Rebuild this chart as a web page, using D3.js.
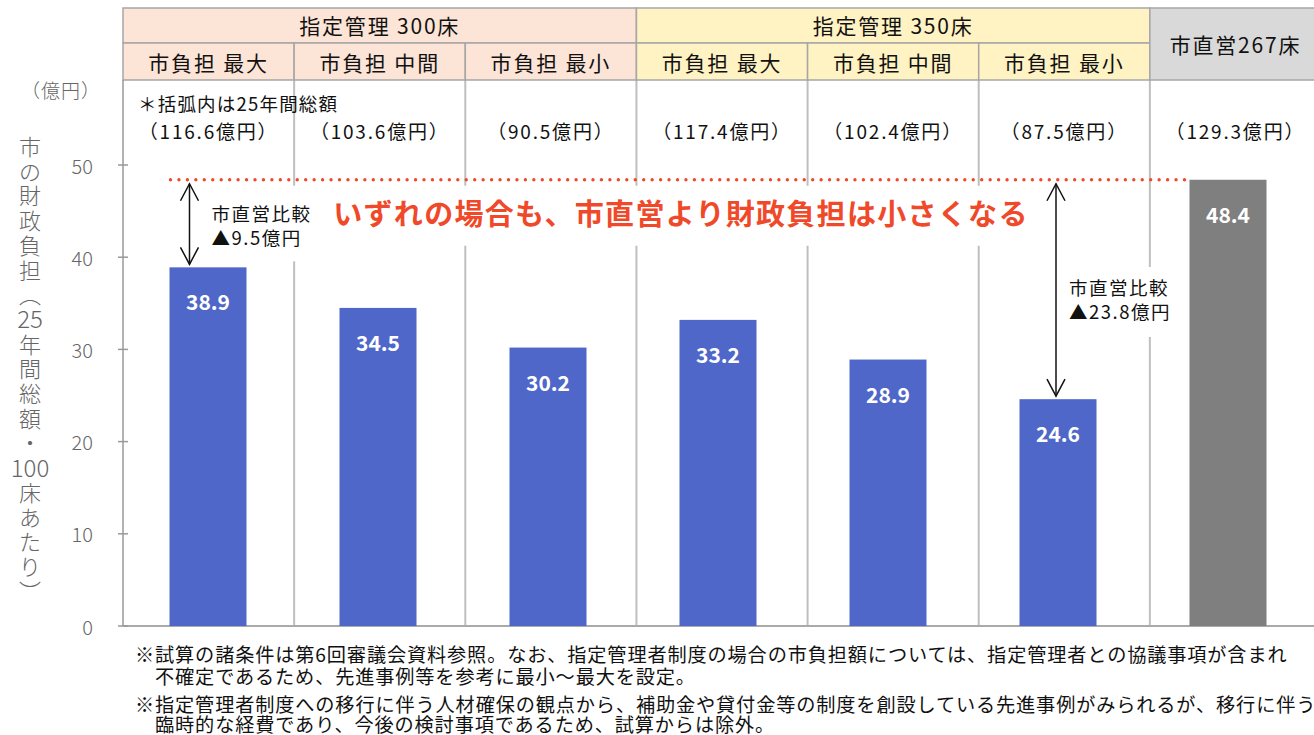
<!DOCTYPE html>
<html>
<head>
<meta charset="utf-8">
<script src="https://cdn.jsdelivr.net/npm/d3@7"></script>
<style>
  body { margin: 0; background: #fff; }
  svg { display: block; }
  text { font-family: "Noto Sans CJK JP", "Noto Sans", sans-serif; }
</style>
</head>
<body>
<svg id="chart" width="1314" height="735"></svg>
<script>
// chart data
const groupNames = ["指定管理 300床", "指定管理 350床", "市直営267床"];
const groupOf = [0, 0, 0, 1, 1, 1, 2];
const subLabels = ["市負担 最大", "市負担 中間", "市負担 最小", "市負担 最大", "市負担 中間", "市負担 最小", "市直営267床"];
const values = [38.9, 34.5, 30.2, 33.2, 28.9, 24.6, 48.4];
const totals = ["116.6", "103.6", "90.5", "117.4", "102.4", "87.5", "129.3"];
const yTicks = [0, 10, 20, 30, 40, 50];
const compareIdx = [0, 5];
const compareLabels = ["▲9.5億円", "▲23.8億円"];
const titleParts = ["市", "の", "財", "政", "負", "担", "︵", "25", "年", "間", "総", "額", "・", "100", "床", "あ", "た", "り", "︶"];
const footnotes = [
    "※試算の諸条件は第6回審議会資料参照。なお、指定管理者制度の場合の市負担額については、指定管理者との協議事項が含まれ",
    "　不確定であるため、先進事例等を参考に最小～最大を設定。",
    "※指定管理者制度への移行に伴う人材確保の観点から、補助金や貸付金等の制度を創設している先進事例がみられるが、移行に伴う",
    "　臨時的な経費であり、今後の検討事項であるため、試算からは除外。"
];

const groupFill = ["#FCE4D6", "#FFF2C3", "#D9D9D9"];
const barColor = ["#4F67C8", "#4F67C8", "#4F67C8", "#4F67C8", "#4F67C8", "#4F67C8", "#7F7F7F"];
const red = "#F0492A";

const svg = d3.select("#chart");
const keys = values.map((d, i) => "c" + i);

// bars scale and the table columns
const x = d3.scaleBand().domain(keys).range([123, 1313]).paddingInner(0.547).paddingOuter(0.2735);
const col = d3.scaleBand().domain(keys).range([123, 1321]);
const y = d3.scaleLinear().domain([0, 50]).range([626, 165]);

const top1 = 8, top2 = 43, top3 = 80;

// column dividers in the plot
svg.append("g").selectAll("line")
    .data(keys.slice(1))
    .enter().append("line")
    .attr("x1", d => col(d)).attr("x2", d => col(d))
    .attr("y1", top3).attr("y2", y(0))
    .attr("stroke", "#BFBFBF").attr("stroke-width", 2);

// header table
const head = svg.append("g");
groupNames.forEach(function(name, g) {
    const idx = keys.filter((k, i) => groupOf[i] === g);
    const x0 = col(idx[0]), x1 = col(idx[idx.length - 1]) + col.bandwidth();
    const single = idx.length === 1;
    head.append("rect")
        .attr("x", x0).attr("y", top1)
        .attr("width", x1 - x0).attr("height", (single ? top3 : top2) - top1)
        .attr("fill", groupFill[g]).attr("stroke", "#A6A6A6").attr("stroke-width", 1.5);
    head.append("text")
        .attr("x", (x0 + x1) / 2).attr("y", single ? (top1 + top3) / 2 : (top1 + top2) / 2 - 1)
        .attr("text-anchor", "middle").attr("dominant-baseline", "central")
        .attr("font-size", 21).attr("letter-spacing", 1.8).attr("fill", "#111")
        .text(name);
    if (!single) {
        idx.forEach(function(k) {
            const i = keys.indexOf(k);
            head.append("rect")
                .attr("x", col(k)).attr("y", top2)
                .attr("width", col.bandwidth()).attr("height", top3 - top2)
                .attr("fill", groupFill[g]).attr("stroke", "#A6A6A6").attr("stroke-width", 1.5);
            head.append("text")
                .attr("x", col(k) + col.bandwidth() / 2).attr("y", (top2 + top3) / 2)
                .attr("text-anchor", "middle").attr("dominant-baseline", "central")
                .attr("font-size", 21).attr("letter-spacing", 1.8).attr("fill", "#111")
                .text(subLabels[i]);
        });
    }
});

// totals in parentheses
svg.append("text")
    .attr("x", 138).attr("y", 103)
    .attr("dominant-baseline", "central")
    .attr("font-size", 18.5).attr("letter-spacing", 1.2).attr("fill", "#111")
    .text("＊括弧内は25年間総額");
svg.append("g").selectAll("text")
    .data(totals)
    .enter().append("text")
    .attr("x", (d, i) => col(keys[i]) + col.bandwidth() / 2)
    .attr("y", 130)
    .attr("text-anchor", "middle").attr("dominant-baseline", "central")
    .attr("font-size", 19).attr("letter-spacing", 1.8).attr("fill", "#111")
    .text(d => "（" + d + "億円）");

// y axis
const axis = svg.append("g");
axis.append("line")
    .attr("x1", 123).attr("x2", 123).attr("y1", top3).attr("y2", y(0))
    .attr("stroke", "#999").attr("stroke-width", 1.5);
axis.append("line")
    .attr("x1", 123).attr("x2", 1314).attr("y1", y(0)).attr("y2", y(0))
    .attr("stroke", "#AAAAAA").attr("stroke-width", 2);
axis.selectAll(".tick")
    .data(yTicks)
    .enter().append("line")
    .attr("x1", 118).attr("x2", 128)
    .attr("y1", d => y(d)).attr("y2", d => y(d))
    .attr("stroke", "#999").attr("stroke-width", 1.5);
axis.selectAll(".tlabel")
    .data(yTicks)
    .enter().append("text")
    .attr("x", 93).attr("y", d => y(d))
    .attr("text-anchor", "end").attr("dominant-baseline", "central")
    .attr("font-size", 20).attr("font-weight", 300).attr("fill", "#666")
    .text(d => d);
axis.append("text")
    .attr("x", 101).attr("y", 89)
    .attr("text-anchor", "end").attr("dominant-baseline", "central")
    .attr("font-size", 19).attr("letter-spacing", 1).attr("font-weight", 300).attr("fill", "#666")
    .text("（億円）");

// vertical axis title, one glyph at a time
svg.append("g").selectAll("text")
    .data(titleParts)
    .enter().append("text")
    .attr("x", 30).attr("y", (d, i) => 145 + i * 24.7)
    .attr("text-anchor", "middle").attr("dominant-baseline", "central")
    .attr("font-size", d => d.length > 1 ? 24 : 22).attr("font-weight", 300).attr("fill", "#666")
    .text(d => d);

// white boxes hiding dividers behind the notes
const bx = x(keys[0]) + 20;
svg.append("rect").attr("x", bx + 14).attr("y", y(48.4) + 6).attr("width", 110).attr("height", y(values[0]) - y(48.4) - 12).attr("fill", "#fff");
svg.append("rect").attr("x", 330).attr("y", y(48.4) + 6).attr("width", 705).attr("height", 60).attr("fill", "#fff");

// bars
svg.append("g").selectAll("rect")
    .data(values)
    .enter().append("rect")
    .attr("x", (d, i) => x(keys[i]))
    .attr("y", d => y(d))
    .attr("width", x.bandwidth())
    .attr("height", d => y(0) - y(d))
    .attr("fill", (d, i) => barColor[i]);

svg.append("g").selectAll("text")
    .data(values)
    .enter().append("text")
    .attr("x", (d, i) => x(keys[i]) + x.bandwidth() / 2)
    .attr("y", d => y(d) + 34)
    .attr("text-anchor", "middle").attr("dominant-baseline", "central")
    .attr("font-family", "DejaVu Sans").attr("font-weight", "bold")
    .attr("font-size", 21).attr("fill", "#fff")
    .text(d => d.toFixed(1));

// dotted line at the direct-management level
const direct = values[values.length - 1];
svg.append("line")
    .attr("x1", x(keys[0]) + 1).attr("x2", x(keys[6]) - 5)
    .attr("y1", y(direct)).attr("y2", y(direct))
    .attr("stroke", red).attr("stroke-width", 3.4)
    .attr("stroke-linecap", "round").attr("stroke-dasharray", "0 8.45");

svg.append("text")
    .attr("x", 681).attr("y", 212)
    .attr("text-anchor", "middle").attr("dominant-baseline", "central")
    .attr("font-size", 29).attr("letter-spacing", 1.3).attr("font-weight", "bold").attr("fill", red)
    .text("いずれの場合も、市直営より財政負担は小さくなる");

// comparison arrows
function arrow(ax, y1, y2) {
    const g = svg.append("g").attr("stroke", "#111").attr("stroke-width", 1.5).attr("fill", "none");
    g.append("line").attr("x1", ax).attr("x2", ax).attr("y1", y1).attr("y2", y2);
    g.append("path").attr("d", `M${ax - 9},${y1 + 17}L${ax},${y1}L${ax + 9},${y1 + 17}`);
    g.append("path").attr("d", `M${ax - 9},${y2 - 17}L${ax},${y2}L${ax + 9},${y2 - 17}`);
}

compareIdx.forEach(function(i, n) {
    const k = keys[i];
    const ax = n === 0 ? x(k) + 20 : x(k) + x.bandwidth() / 2 - 2;
    const y1 = y(direct) + 4, y2 = y(values[i]) - 3;
    arrow(ax, y1, y2);
    const tx = n === 0 ? ax + 22 : ax + 13;
    const ty = n === 0 ? y1 + 29 : (y1 + y2) / 2 - 3;
    if (n === 1) {
        svg.append("rect").attr("x", tx - 4).attr("y", ty - 20).attr("width", 112).attr("height", 70).attr("fill", "#fff");
    }
    svg.append("text")
        .attr("x", tx).attr("y", ty)
        .attr("dominant-baseline", "central")
        .attr("font-size", 18.5).attr("letter-spacing", 1.5).attr("fill", "#111")
        .text("市直営比較");
    svg.append("text")
        .attr("x", tx).attr("y", ty + 24)
        .attr("dominant-baseline", "central")
        .attr("font-size", 18.5).attr("letter-spacing", 1.5).attr("fill", "#111")
        .text(compareLabels[n]);
});

// footnotes
svg.append("g").selectAll("text")
    .data(footnotes)
    .enter().append("text")
    .attr("x", 135)
    .attr("y", (d, i) => [654, 676, 704, 724][i])
    .attr("dominant-baseline", "central")
    .attr("font-size", 19.2).attr("letter-spacing", 0.85).attr("fill", "#111")
    .text(d => d);
</script>
</body>
</html>
